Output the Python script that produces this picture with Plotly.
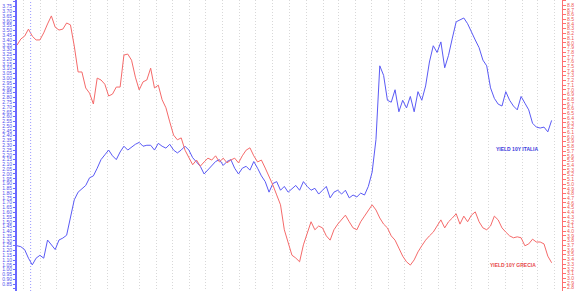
import pandas as pd
import plotly.graph_objects as go

start_date = "2016-07-20"
range_end = "2019-04-15"
marker_date = "2016-08-14"

italia = [1.25, 1.24, 1.21, 1.12, 1.05, 1.12, 1.15, 1.12, 1.31, 1.26,
          1.21, 1.31, 1.33, 1.36, 1.54, 1.73, 1.81, 1.85, 1.88, 1.96,
          1.98, 2.06, 2.15, 2.20, 2.25, 2.19, 2.15, 2.23, 2.29, 2.25,
          2.28, 2.31, 2.33, 2.29, 2.30, 2.30, 2.25, 2.32, 2.29, 2.27,
          2.31, 2.25, 2.22, 2.25, 2.29, 2.25, 2.17, 2.13, 2.08, 2.00,
          2.04, 2.08, 2.13, 2.15, 2.09, 2.13, 2.15, 2.06, 2.00, 2.06,
          2.08, 2.04, 2.13, 2.06, 1.98, 1.92, 1.81, 1.90, 1.92, 1.83,
          1.87, 1.81, 1.85, 1.88, 1.83, 1.92, 1.87, 1.83, 1.85, 1.79,
          1.83, 1.87, 1.75, 1.81, 1.83, 1.79, 1.83, 1.75, 1.78, 1.76,
          1.80, 1.78, 1.87, 2.02, 2.36, 3.13, 3.03, 2.77, 2.75, 2.88,
          2.65, 2.77, 2.69, 2.81, 2.65, 2.86, 2.77, 2.92, 3.17, 3.34,
          3.27, 3.38, 3.11, 3.24, 3.42, 3.59, 3.61, 3.63, 3.57, 3.48,
          3.40, 3.32, 3.19, 3.13, 2.90, 2.79, 2.73, 2.71, 2.86, 2.77,
          2.71, 2.67, 2.81, 2.74, 2.67, 2.53, 2.49, 2.48, 2.49, 2.44,
          2.56]

grecia = [7.95, 8.08, 8.14, 8.29, 8.14, 8.06, 8.06, 8.21, 8.40, 8.57,
          8.33, 8.27, 8.29, 8.42, 8.38, 7.93, 7.38, 7.38, 7.04, 6.93,
          6.70, 7.25, 7.21, 7.12, 6.87, 6.91, 7.06, 7.06, 7.74, 7.76,
          7.63, 7.27, 7.00, 7.17, 7.21, 7.46, 7.04, 7.10, 6.79, 6.62,
          6.32, 6.04, 5.94, 5.98, 5.72, 5.55, 5.41, 5.51, 5.38, 5.47,
          5.55, 5.51, 5.60, 5.47, 5.55, 5.45, 5.51, 5.55, 5.45, 5.60,
          5.72, 5.77, 5.60, 5.47, 5.51, 5.34, 5.17, 4.98, 4.77, 4.56,
          4.03, 3.77, 3.49, 3.43, 3.35, 3.71, 3.98, 4.20, 4.03, 4.11,
          4.07, 3.90, 3.81, 4.03, 4.15, 4.24, 4.34, 4.20, 4.07, 4.03,
          4.20, 4.32, 4.45, 4.56, 4.45, 4.28, 4.15, 4.07, 3.90, 3.81,
          3.64, 3.47, 3.35, 3.28, 3.39, 3.56, 3.69, 3.81, 3.90, 3.98,
          4.11, 4.24, 4.07, 4.20, 4.28, 4.37, 4.15, 4.32, 4.20, 4.34,
          4.41, 4.20, 4.07, 4.03, 4.11, 4.32, 4.24, 4.07, 3.98, 3.90,
          3.86, 3.88, 3.86, 3.69, 3.73, 3.83, 3.77, 3.77, 3.73, 3.47,
          3.33]

label_it = "YIELD 10Y ITALIA"
label_gr = "YIELD 10Y GRECIA"

dates = pd.date_range(start_date, periods=len(italia), freq="7D")

BLUE = "#5a5af5"
RED = "#f56a6a"

fig = go.Figure()
fig.add_trace(go.Scatter(x=dates, y=italia, mode="lines", line=dict(color=BLUE, width=1),
                         yaxis="y", showlegend=False, hoverinfo="skip"))
fig.add_trace(go.Scatter(x=dates, y=grecia, mode="lines", line=dict(color=RED, width=1),
                         yaxis="y2", showlegend=False, hoverinfo="skip"))

fig.add_shape(type="line", xref="x", yref="paper", x0=marker_date, x1=marker_date, y0=0, y1=1,
              line=dict(color="#9a9aff", width=1, dash="1px,2px"))

fig.add_annotation(text="<b>%s</b>" % label_it, xref="paper", yref="paper", x=0.9596, y=0.488,
                   showarrow=False, font=dict(color="#3b3bdd", size=5, family="Liberation Sans"))
fig.add_annotation(text="<b>%s</b>" % label_gr, xref="paper", yref="paper", x=0.956, y=0.072,
                   showarrow=False, font=dict(color="#e84a4a", size=5, family="Liberation Sans"))

fig.update_layout(
    width=580, height=291,
    margin=dict(l=17, r=18, t=0, b=0),
    paper_bgcolor="white", plot_bgcolor="white",
    xaxis=dict(type="date", range=[start_date, range_end], showticklabels=False,
               tick0="2016-08-01", dtick="M1", showgrid=True, gridcolor="#d8d8d8",
               griddash="1px,2px", gridwidth=1, zeroline=False, showline=False, ticks=""),
    yaxis=dict(range=[0.777, 3.818], dtick=0.05, tick0=0.85, tickformat=".2f",
               showgrid=False, zeroline=False, showline=True, linecolor="#6a6aff", linewidth=2,
               ticks="outside", ticklen=2, tickcolor="#6a6aff",
               tickfont=dict(color="#5050ee", size=5, family="Liberation Sans")),
    yaxis2=dict(range=[2.730, 8.908], dtick=0.1, tick0=2.8, tickformat=".1f", overlaying="y",
                side="right", showgrid=False, zeroline=False, showline=True,
                linecolor="#ff7070", linewidth=1, ticks="outside", ticklen=3, tickcolor="#ff7070",
                tickfont=dict(color="#ee5555", size=5, family="Liberation Sans")),
)

fig.write_html("out.html")
